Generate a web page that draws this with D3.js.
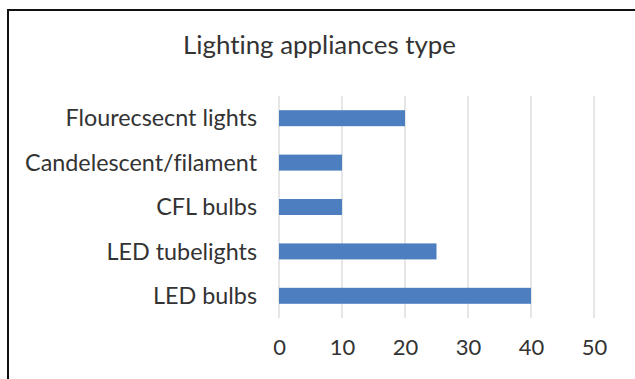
<!DOCTYPE html>
<html>
<head>
<meta charset="utf-8">
<script src="https://cdn.jsdelivr.net/npm/d3@7"></script>
<style>
  body { margin: 0; background: #fff; }
  svg { display: block; font-family: Lato, "Open Sans", sans-serif; font-variant-ligatures: none; }
</style>
</head>
<body>
<div id="chart"></div>
<script>
// data
const categories = ["Flourecsecnt lights", "Candelescent/filament", "CFL bulbs", "LED tubelights", "LED bulbs"];
const values = [20, 10, 10, 25, 40];
const xTicks = [0, 10, 20, 30, 40, 50];
const title = "Lighting appliances type";

const W = 635, H = 379;
const m = {t: 96, r: 41, b: 61, l: 279};

const svg = d3.select("#chart").append("svg")
  .attr("width", W)
  .attr("height", H);

svg.append("rect").attr("width", W).attr("height", H).attr("fill", "#fff");

// chart border (only left and top visible in crop)
svg.append("path")
  .attr("d", `M8,${H + 2} V10 H${W + 2}`)
  .attr("fill", "none")
  .attr("stroke", "#111")
  .attr("stroke-width", 2);

const x = d3.scaleLinear()
  .domain([0, 50])
  .range([m.l, 594]);

const y = d3.scaleBand()
  .domain(categories)
  .range([m.t, 318])
  .paddingInner(0.64)
  .paddingOuter(0.32);

// gridlines
svg.append("g")
  .selectAll("line")
  .data(xTicks)
  .join("line")
  .attr("x1", d => x(d)).attr("x2", d => x(d))
  .attr("y1", m.t).attr("y2", 318)
  .attr("stroke", "#d9d9d9")
  .attr("stroke-width", 1.3);

// bars
svg.append("g")
  .selectAll("rect")
  .data(categories)
  .join("rect")
  .attr("x", x(0))
  .attr("y", d => y(d))
  .attr("width", (d, i) => x(values[i]) - x(0))
  .attr("height", y.bandwidth())
  .attr("fill", "#4d7ebf");

// category labels
const catLabels = svg.append("g")
  .selectAll("text")
  .data(categories)
  .join("text")
  .attr("x", 257)
  .attr("y", d => y(d) + y.bandwidth() / 2)
  .attr("dy", "0.35em")
  .attr("text-anchor", "end")
  .attr("fill", "#333")
  .style("font-size", "23px")
  .text(d => d);

// x axis tick labels
const xAxis = d3.axisBottom(x).tickValues(xTicks).tickSize(0).tickPadding(0);
const gx = svg.append("g")
  .attr("transform", `translate(0,355)`)
  .call(xAxis);
gx.select(".domain").remove();
gx.selectAll("text")
  .attr("dy", 0)
  .attr("y", 0)
  .attr("fill", "#333")
  .style("font-family", "Lato, 'Open Sans', sans-serif")
  .style("font-size", "22px");

// title
const t = svg.append("text")
  .attr("x", 319.5)
  .attr("y", 54)
  .attr("text-anchor", "middle")
  .attr("fill", "#333")
  .style("font-size", "25px")
  .text(title);

// fit font sizes to the widths seen in the picture
function fit(sel, target) {
  let w = 0;
  sel.each(function() { w = Math.max(w, this.getComputedTextLength()); });
  const fs = parseFloat(sel.style("font-size"));
  sel.style("font-size", (fs * target / w).toFixed(2) + "px");
}
fit(catLabels, 232);
fit(t, 273);
</script>
</body>
</html>
